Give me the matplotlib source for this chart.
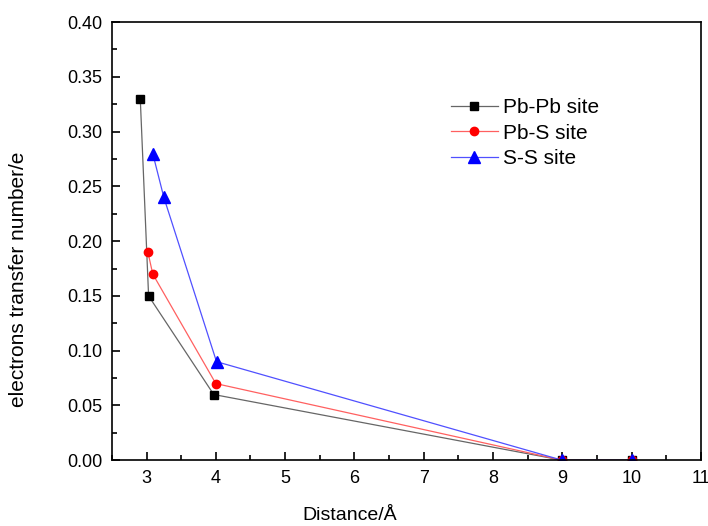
import matplotlib
matplotlib.use("Agg")
import matplotlib.pyplot as plt
from matplotlib.ticker import MultipleLocator

plt.rcParams['font.family'] = ['Liberation Sans', 'DejaVu Sans']

# distances (Angstrom) and electrons transferred
pbpb_x = [2.91, 3.03, 3.97, 9, 10]
pbpb_y = [0.33, 0.15, 0.06, 0.0, 0.0]
pbs_x = [3.02, 3.09, 4.0, 9, 10]
pbs_y = [0.19, 0.17, 0.07, 0.0, 0.0]
ss_x = [3.09, 3.25, 4.01, 9, 10]
ss_y = [0.28, 0.24, 0.09, 0.0, 0.0]

fig = plt.figure(figsize=(7.08, 5.26), dpi=100)
ax = fig.add_axes([0.158, 0.125, 0.832, 0.833])

ax.plot(pbpb_x, pbpb_y, color='#666666', lw=0.9, marker='s', ms=5.5,
        mfc='black', mec='black', label='Pb-Pb site')
ax.plot(pbs_x, pbs_y, color='#ff6060', lw=0.9, marker='o', ms=6,
        mfc='red', mec='red', label='Pb-S site')
ax.plot(ss_x, ss_y, color='#5050ff', lw=0.9, marker='^', ms=8,
        mfc='blue', mec='blue', label='S-S site')

ax.set_xlim(2.5, 11)
ax.set_ylim(0, 0.40)
ax.xaxis.set_major_locator(MultipleLocator(1))
ax.xaxis.set_minor_locator(MultipleLocator(0.5))
ax.yaxis.set_major_locator(MultipleLocator(0.05))
ax.yaxis.set_minor_locator(MultipleLocator(0.025))
ax.yaxis.set_major_formatter(plt.FormatStrFormatter('%.2f'))
ax.tick_params(which='both', direction='in', labelsize=13, width=1.2)
ax.tick_params(which='major', length=6, pad=7)
ax.tick_params(which='minor', length=3.5)
for s in ax.spines.values():
    s.set_linewidth(1.2)

ax.set_xlabel('Distance/Å', fontsize=14)
ax.set_ylabel('electrons transfer number/e', fontsize=15)
# labels sit off-centre in the original
ax.xaxis.set_label_coords(0.404, -0.107)
ax.yaxis.set_label_coords(-0.143, 0.413)

ax.legend(loc='upper left', bbox_to_anchor=(0.565, 0.84), frameon=False,
          fontsize=15, handlelength=2.25, handletextpad=0.25, labelspacing=0.3,
          borderaxespad=0, borderpad=0.3)

fig.savefig('out.png', dpi=100)
